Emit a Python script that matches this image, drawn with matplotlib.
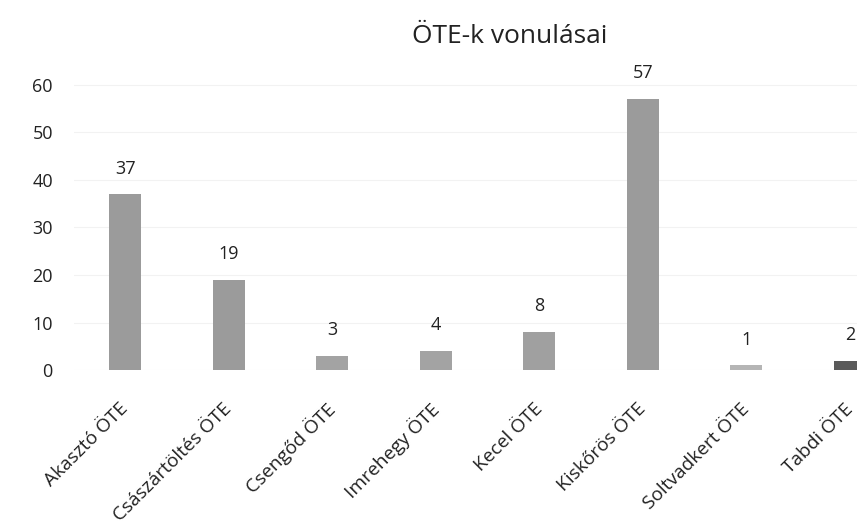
import matplotlib.pyplot as plt
import numpy as np

plt.rcParams['font.family'] = ['Open Sans', 'DejaVu Sans']

categories = ["Akasztó ÖTE", "Császártöltés ÖTE", "Csengőd ÖTE", "Imrehegy ÖTE",
              "Kecel ÖTE", "Kiskőrös ÖTE", "Soltvadkert ÖTE", "Tabdi ÖTE"]
values = [37, 19, 3, 4, 8, 57, 1, 2]
bar_colors = ['#9b9b9b', '#9b9b9b', '#a3a3a3', '#a3a3a3',
              '#a0a0a0', '#9b9b9b', '#b5b5b5', '#5a5a5a']

fig = plt.figure(figsize=(8.57, 5.31), dpi=100)
ax = fig.add_axes([0.086, 0.303, 0.966, 0.582])

index = np.arange(len(categories))
ax.bar(index, values, 0.31, color=bar_colors)

for i, v in enumerate(values):
    ax.annotate(str(v), (index[i], v), xytext=(0, 12), textcoords='offset points',
                ha='center', va='bottom', fontsize=13, color='#222222')

ax.set_xlim(-0.5, len(categories) - 0.5)
ax.set_ylim(0, 65)
ax.set_yticks(range(0, 61, 10))
ax.set_xticks(index)
ax.set_xticklabels(categories, rotation=45, ha='right', va='center', rotation_mode='anchor',
                   fontsize=13.8, color='#222222')
ax.tick_params(axis='y', labelsize=13, colors='#222222', length=0, pad=15)
ax.tick_params(axis='x', length=0, pad=26)
for s in ax.spines.values():
    s.set_visible(False)
ax.grid(axis='y', color='#f2f2f2', linewidth=0.8)
ax.set_axisbelow(True)

fig.text(0.595, 0.932, 'ÖTE-k vonulásai', ha='center', va='center', fontsize=19, color='#222222')

fig.savefig('out.png', dpi=100)
